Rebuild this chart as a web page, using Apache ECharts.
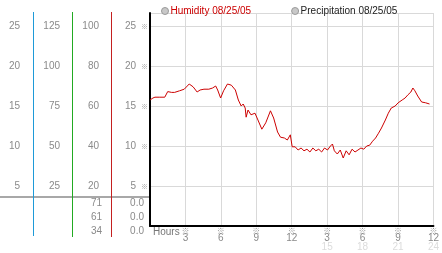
<!DOCTYPE html>
<html><head><meta charset="utf-8">
<script src="https://cdn.jsdelivr.net/npm/echarts@6/dist/echarts.min.js"></script>
<style>html,body{margin:0;padding:0;background:#fff}#c{width:442px;height:253px}</style>
</head><body><div id="c"></div>
<script>
// ---- data ----
const hours = [0,0.25,0.42,0.83,1.25,1.5,1.83,2.08,2.5,2.9,3.32,3.65,3.99,4.24,4.57,4.98,5.3,5.56,5.73,5.98,6.23,6.56,6.89,7.23,7.48,7.72,7.89,8.06,8.14,8.3,8.55,8.89,9.14,9.47,9.8,10.2,10.47,10.63,10.8,11.05,11.38,11.63,11.88,12.04,12.29,12.54,12.79,13.04,13.29,13.54,13.79,14.04,14.29,14.53,14.78,15.03,15.28,15.45,15.61,15.86,16.11,16.36,16.61,16.86,17.11,17.36,17.61,17.86,18.1,18.35,18.6,18.85,19.1,19.35,19.6,19.93,20.18,20.43,20.76,21.01,21.35,21.6,21.84,22.09,22.26,22.43,22.67,23.0,23.34,23.67];
const humidity = [15.75,16.0,16.1,16.1,16.1,16.8,16.7,16.7,16.9,17.1,17.75,17.4,16.75,17.0,17.1,17.1,17.25,17.5,17.0,16.0,16.9,17.75,17.6,17.0,15.75,15.0,15.25,14.75,13.6,14.5,13.9,14.1,13.25,12.1,12.9,14.4,13.5,13.25,11.75,11.1,11.0,10.75,11.4,9.9,9.9,9.5,9.75,9.4,9.6,9.25,9.75,9.4,9.6,9.25,9.75,9.5,10.0,10.25,9.4,9.0,9.5,8.5,9.4,8.9,9.6,9.25,9.5,9.75,9.6,10.0,10.1,10.6,11.0,11.6,12.25,13.25,14.1,14.75,15.0,15.4,15.75,16.0,16.4,16.75,17.25,16.9,16.25,15.5,15.4,15.25];
const legendNames = ['Humidity 08/25/05', 'Precipitation 08/25/05'];
const humidityStats = ['71', '61', '34'];
const precipStats = ['0.0', '0.0', '0.0'];
const xLabelName = 'Hours';
const yMax = 26.625;
const colScales = [1, 5, 4];          // scale factors for side columns (col1, col2, col3)
const colIntervals = [5, 25, 20];

const FONT = '"Liberation Sans", Arial, sans-serif';
const GRAY = '#8a8a8a';

function sideAxis(scale, interval, margin) {
  return {
    type: 'value', position: 'left', min: 0, max: yMax * scale, interval: interval,
    axisLine: {show: false}, axisTick: {show: false}, splitLine: {show: false},
    axisLabel: {
      margin: margin, showMinLabel: false, showMaxLabel: false,
      color: GRAY, fontSize: 10, fontFamily: FONT,
      formatter: v => (v > 0 && Math.abs(v / interval - Math.round(v / interval)) < 1e-6) ? String(v) : ''
    }
  };
}

const chart = echarts.init(document.getElementById('c'), null, {renderer: 'canvas'});
const statText = [];
humidityStats.forEach((t, i) => statText.push({type: 'text', right: 442 - 102, top: 198 + i * 14,
  style: {text: t, fill: GRAY, font: '10px ' + FONT, textAlign: 'right'}}));
precipStats.forEach((t, i) => statText.push({type: 'text', right: 442 - 144, top: 198 + i * 14,
  style: {text: t, fill: GRAY, font: '10px ' + FONT, textAlign: 'right'}}));

chart.setOption({
  animation: false,
  grid: {left: 150, right: 2, top: 13, bottom: 27, containLabel: false},
  legend: {
    left: 156, top: 1, icon: 'circle', itemWidth: 7, itemHeight: 7, itemGap: 40,
    textStyle: {fontSize: 10, fontFamily: FONT, padding: [0, 0, 0, -3]},
    data: [
      {name: legendNames[0], textStyle: {color: '#cc0000'}, itemStyle: {color: '#c8c8c8', borderColor: '#999', borderWidth: 1}},
      {name: legendNames[1], textStyle: {color: '#222'}, itemStyle: {color: '#c8c8c8', borderColor: '#999', borderWidth: 1}}
    ]
  },
  xAxis: {
    type: 'value', min: 0, max: 24, interval: 3,
    axisLine: {show: true, onZero: false, lineStyle: {color: '#000', width: 2}},
    axisTick: {show: false},
    splitLine: {show: true, lineStyle: {color: '#d9d9d9', width: 1}},
    axisLabel: {
      margin: 1, showMinLabel: false,
      formatter: v => {
        if (v === 0) return '';
        const lbl = v > 12 ? v - 12 : v;
        let s = '{m|※}\n{v|' + lbl + '}';
        if (v > 12) s += '\n{f|' + v + '}';
        return s;
      },
      rich: {
        m: {fontSize: 8, color: '#999', lineHeight: 7, fontFamily: '"Noto Sans CJK JP"'},
        v: {fontSize: 10, color: GRAY, lineHeight: 8, fontFamily: FONT},
        f: {fontSize: 10, color: '#dcdcdc', lineHeight: 11, fontFamily: FONT}
      }
    }
  },
  yAxis: [
    {
      type: 'value', position: 'left', min: 0, max: yMax, interval: 5,
      axisLine: {show: true, lineStyle: {color: '#000', width: 2}},
      axisTick: {show: false},
      splitLine: {show: true, lineStyle: {color: '#d9d9d9', width: 1}},
      axisLabel: {
        margin: 2, showMinLabel: false, showMaxLabel: false,
        formatter: v => (v > 0 && v % 5 === 0) ? '{v|' + v + '}{m|※}' : '',
        rich: {
          v: {fontSize: 10, color: GRAY, fontFamily: FONT},
          m: {fontSize: 7, color: '#999', padding: [0, 0, 0, 5], fontFamily: '"Noto Sans CJK JP"'}
        }
      }
    },
    sideAxis(colScales[0], colIntervals[0], 130),
    sideAxis(colScales[1], colIntervals[1], 90),
    sideAxis(colScales[2], colIntervals[2], 51)
  ],
  series: [
    {
      name: legendNames[0], type: 'line', yAxisIndex: 0, showSymbol: false, symbol: 'none',
      lineStyle: {color: '#cc0000', width: 1}, itemStyle: {color: '#cc0000'},
      data: hours.map((h, i) => [h, humidity[i]])
    },
    {name: legendNames[1], type: 'line', yAxisIndex: 0, data: [], itemStyle: {color: '#999'}}
  ],
  graphic: [
    {type: 'rect', shape: {x: 33, y: 12, width: 1, height: 224}, style: {fill: '#1e9ad8'}, z: 100},
    {type: 'rect', shape: {x: 72, y: 12, width: 1, height: 225}, style: {fill: '#22aa22'}, z: 100},
    {type: 'rect', shape: {x: 111, y: 12, width: 1, height: 225}, style: {fill: '#c42020'}, z: 100},
    {type: 'rect', shape: {x: 0, y: 196, width: 149, height: 2}, style: {fill: '#a8a8a8'}, z: 99},
    {type: 'text', left: 153, top: 227, style: {text: xLabelName, fill: '#777', font: '10px ' + FONT}},
    ...statText
  ]
});
</script></body></html>
